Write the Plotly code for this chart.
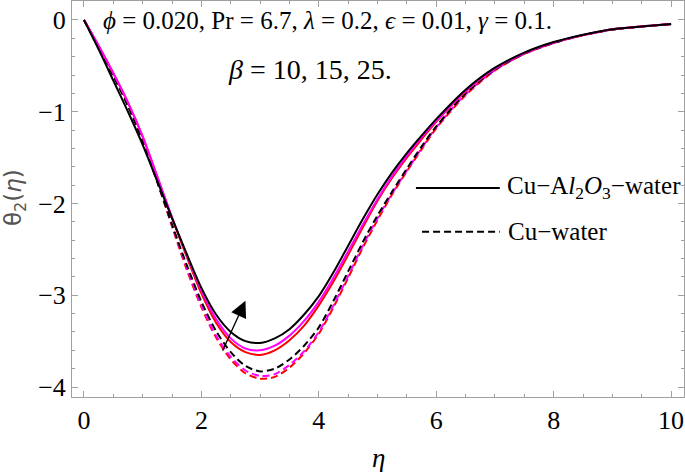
import plotly.graph_objects as go

# similarity variable
eta = [0, 0.25, 0.5, 0.75, 1.0, 1.25, 1.5, 1.75, 2.0, 2.25, 2.5, 2.75, 3.0,
       3.25, 3.5, 3.75, 4.0, 4.25, 4.5, 4.75, 5.0, 5.25, 5.5, 5.75, 6.0,
       6.5, 7.0, 7.5, 8.0, 8.5, 9.0, 9.5, 10.0]

# Cu-Al2O3-water (solid), beta = 25, 15, 10
hybrid_b25 = [0, -0.32, -0.66, -1.00, -1.36, -1.76, -2.16, -2.55, -2.92, -3.21, -3.40, -3.50, -3.52,
              -3.47, -3.37, -3.21, -3.01, -2.75, -2.46, -2.17, -1.90, -1.66, -1.45, -1.26, -1.08,
              -0.76, -0.52, -0.355, -0.24, -0.16, -0.10, -0.07, -0.045]
hybrid_b15 = [0, -0.28, -0.58, -0.90, -1.27, -1.71, -2.15, -2.56, -2.95, -3.26, -3.47, -3.58, -3.60,
              -3.55, -3.44, -3.28, -3.07, -2.81, -2.52, -2.23, -1.95, -1.70, -1.48, -1.28, -1.10,
              -0.77, -0.53, -0.36, -0.245, -0.165, -0.10, -0.07, -0.045]
hybrid_b10 = [0, -0.28, -0.58, -0.90, -1.27, -1.71, -2.16, -2.58, -2.98, -3.30, -3.51, -3.62, -3.65,
              -3.60, -3.49, -3.33, -3.11, -2.85, -2.56, -2.26, -1.97, -1.72, -1.50, -1.30, -1.11,
              -0.78, -0.53, -0.36, -0.245, -0.165, -0.10, -0.07, -0.045]

# Cu-water (dashed), beta = 25, 15, 10
cu_b25 = [0, -0.30, -0.61, -0.94, -1.32, -1.77, -2.23, -2.67, -3.07, -3.39, -3.62, -3.77, -3.83,
          -3.80, -3.70, -3.55, -3.35, -3.06, -2.74, -2.42, -2.13, -1.87, -1.62, -1.38, -1.16,
          -0.80, -0.54, -0.365, -0.25, -0.165, -0.105, -0.07, -0.045]
cu_b15 = [0, -0.29, -0.59, -0.92, -1.30, -1.76, -2.24, -2.70, -3.11, -3.44, -3.67, -3.82, -3.88,
          -3.86, -3.76, -3.61, -3.40, -3.11, -2.79, -2.46, -2.16, -1.89, -1.64, -1.40, -1.17,
          -0.81, -0.545, -0.37, -0.25, -0.165, -0.105, -0.07, -0.045]
cu_b10 = [0, -0.29, -0.59, -0.92, -1.30, -1.76, -2.25, -2.72, -3.13, -3.46, -3.70, -3.85, -3.91,
          -3.89, -3.79, -3.63, -3.42, -3.13, -2.81, -2.48, -2.18, -1.90, -1.65, -1.41, -1.18,
          -0.82, -0.55, -0.37, -0.25, -0.165, -0.105, -0.07, -0.045]

x_ticks = [0, 2, 4, 6, 8, 10]
y_ticks = [0, -1, -2, -3, -4]

SERIF = "Liberation Serif, Times New Roman, serif"
FRAME = "#a0a0a0"

series = [
    (cu_b10, "red", "7px,4px"),
    (cu_b15, "magenta", "7px,4px"),
    (cu_b25, "black", "7px,4px"),
    (hybrid_b10, "red", "solid"),
    (hybrid_b15, "magenta", "solid"),
    (hybrid_b25, "black", "solid"),
]

fig = go.Figure()
for ys, color, dash in series:
    fig.add_trace(go.Scatter(
        x=eta, y=ys, mode="lines", showlegend=False, hoverinfo="skip",
        line=dict(color=color, width=2, dash=dash, shape="spline", smoothing=0.8),
    ))

axis_common = dict(
    showgrid=False, zeroline=False, showline=True, linecolor=FRAME, linewidth=1,
    mirror="allticks", ticks="inside", ticklen=6, tickcolor=FRAME, tickwidth=1,
    tickfont=dict(family=SERIF, size=26, color="black"), automargin=False,
)

fig.update_xaxes(
    range=[-0.204, 10.22], tickvals=x_ticks,
    minor=dict(dtick=0.5, ticks="inside", ticklen=3, tickcolor=FRAME),
    **axis_common,
)
fig.update_yaxes(
    range=[-4.109, 0.207], tickvals=y_ticks,
    minor=dict(dtick=0.2, ticks="inside", ticklen=3, tickcolor=FRAME),
    **axis_common,
)

annotations = [
    dict(text="<i>ϕ</i> = 0.020, Pr = 6.7, <i>λ</i> = 0.2, <i>ϵ</i> = 0.01, <i>γ</i> = 0.1.",
         x=0.047, y=0.952, xanchor="left", yanchor="middle", font=dict(size=25)),
    dict(text="<i>β</i> = 10, 15, 25.",
         x=0.2516, y=0.826, xanchor="left", yanchor="middle", font=dict(size=28)),
    dict(text="Cu−A<i>l</i><sub>2</sub><i>O</i><sub>3</sub>−water",
         x=0.7075, y=0.528, xanchor="left", yanchor="middle", font=dict(size=25)),
    dict(text="Cu−water",
         x=0.709, y=0.417, xanchor="left", yanchor="middle", font=dict(size=25)),
    dict(text="<i>η</i>", x=0.5, y=-0.155, xanchor="center", yanchor="middle",
         font=dict(size=27)),
    dict(text="θ<sub>2</sub>(<i>η</i>)", x=-0.093, y=0.5025, xanchor="center", yanchor="middle",
         textangle=-90, font=dict(size=23, family="DejaVu Sans", color="#555")),
]
for a in annotations:
    a.setdefault("xref", "paper")
    a.setdefault("yref", "paper")
    a.setdefault("showarrow", False)
    f = a["font"]
    f.setdefault("family", SERIF)
    f.setdefault("color", "black")
    fig.add_annotation(**a)

# arrow showing increasing beta
fig.add_annotation(x=2.75, y=-3.06, ax=2.35, ay=-3.62, xref="x", yref="y", axref="x", ayref="y",
                   text="", showarrow=True, arrowhead=2, arrowsize=2.5, arrowwidth=1.3,
                   arrowcolor="black")

# legend samples
fig.add_shape(type="line", xref="paper", yref="paper", x0=0.562, x1=0.699, y0=0.528, y1=0.528,
              line=dict(color="black", width=2))
fig.add_shape(type="line", xref="paper", yref="paper", x0=0.572, x1=0.699, y0=0.417, y1=0.417,
              line=dict(color="black", width=2, dash="7px,4px"))

fig.update_layout(
    width=685, height=472,
    margin=dict(l=72, r=1, t=1, b=75, autoexpand=False),
    paper_bgcolor="white", plot_bgcolor="white",
)

# drop the browser's default body margin so the figure sits at the page corner
fig.write_html("out.html", config={"displayModeBar": False},
               post_script="document.body.style.margin='0';document.body.style.overflow='hidden';")
